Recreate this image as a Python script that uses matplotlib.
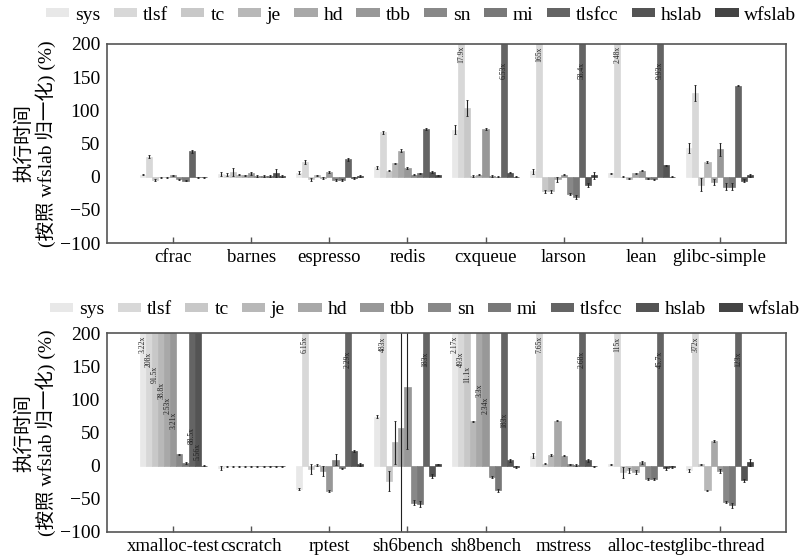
import matplotlib
matplotlib.use("Agg")
import matplotlib.pyplot as plt
from matplotlib.patches import Patch
import numpy as np

plt.rcParams['font.family'] = ['Liberation Serif', 'Noto Sans CJK SC', 'DejaVu Sans']
plt.rcParams['axes.unicode_minus'] = True

series = ['sys', 'tlsf', 'tc', 'je', 'hd', 'tbb', 'sn', 'mi', 'tlsfcc', 'hslab', 'wfslab']
colors = ['#e8e8e8', '#d8d8d8', '#c8c8c8', '#b8b8b8', '#a8a8a8', '#989898',
          '#888888', '#787878', '#646464', '#545454', '#444444']

cats_top = ['cfrac', 'barnes', 'espresso', 'redis', 'cxqueue', 'larson', 'lean', 'glibc-simple']
cats_bot = ['xmalloc-test', 'cscratch', 'rptest', 'sh6bench', 'sh8bench', 'mstress', 'alloc-test', 'glibc-thread']

# values in % (values above 200 are overflow bars, labelled as multiples)
top_vals = {
    'sys':    [3, 4, 6, 14, 71, 8, 5, 43],
    'tlsf':   [30, 3, 22, 67, 1790, 16500, 248, 126],
    'tc':     [-5, 7, -4, 9, 103, -22, 0, -12],
    'je':     [-1, 3, 2, 20, 1, -22, -3, 22],
    'hd':     [-1, 2, -2, 39, 3, -4, 5, -8],
    'tbb':    [2, 5, 7, 13, 72, 3, 9, 41],
    'sn':     [-4, 1, -5, 3, 1, -26, -3, -15],
    'mi':     [-6, 1, -5, 5, 0, -30, -4, -15],
    'tlsfcc': [38, 1, 26, 72, 653, 5840, 993, 137],
    'hslab':  [-1, 5, -2, 7, 6, -12, 17, -6],
    'wfslab': [-1, 1, 1, 2, 0, 2, 0, 2],
}
top_errs = {
    'sys':    [1, 3, 2, 2, 7, 4, 1, 8],
    'tlsf':   [2, 2, 3, 2, 0, 0, 0, 12],
    'tc':     [2, 6, 2, 1, 12, 2, 1, 10],
    'je':     [1, 1, 1, 1, 1, 2, 1, 2],
    'hd':     [1, 1, 1, 2, 1, 4, 1, 5],
    'tbb':    [1, 2, 1, 1, 2, 1, 1, 10],
    'sn':     [1, 1, 1, 1, 1, 2, 1, 5],
    'mi':     [1, 1, 1, 1, 1, 3, 1, 5],
    'tlsfcc': [2, 1, 2, 2, 0, 0, 0, 1],
    'hslab':  [1, 6, 1, 1, 1, 3, 1, 2],
    'wfslab': [1, 1, 1, 1, 1, 5, 1, 2],
}

bot_vals = {
    'sys':    [322, -3, -35, 74, 217, 15, 2, -7],
    'tlsf':   [20800, -1, 615, 48300, 49300, 765, 11500, 37200],
    'tc':     [9150, -1, -5, -23, 1110, 3, -10, 2],
    'je':     [3880, -1, 1, 35, 67, 16, -7, -37],
    'hd':     [253, -1, -8, 57, 330, 68, -10, 37],
    'tbb':    [321, -1, -38, 118, 234, 15, 5, -8],
    'sn':     [17, -1, 9, -56, -17, 2, -20, -55],
    'mi':     [4, -1, -4, -58, -37, 1, -20, -60],
    'tlsfcc': [8850, -1, 229, 18300, 18300, 268, 4570, 12300],
    'hslab':  [556, -1, 22, -15, 8, 8, -4, -22],
    'wfslab': [0, -1, 2, 2, -2, -1, -2, 5],
}
bot_errs = {
    'sys':    [0, 3, 1, 2, 0, 4, 1, 2],
    'tlsf':   [0, 1, 0, 0, 0, 0, 0, 0],
    'tc':     [0, 1, 8, 15, 0, 1, 8, 1],
    'je':     [0, 1, 2, 32, 1, 2, 4, 1],
    'hd':     [0, 1, 7, 170, 0, 1, 3, 1],
    'tbb':    [0, 1, 1, 93, 0, 1, 2, 3],
    'sn':     [1, 1, 8, 4, 2, 1, 1, 2],
    'mi':     [1, 1, 1, 4, 2, 1, 2, 4],
    'tlsfcc': [0, 1, 0, 0, 0, 0, 0, 0],
    'hslab':  [0, 1, 1, 3, 2, 2, 2, 2],
    'wfslab': [1, 1, 2, 1, 2, 1, 1, 5],
}

yticks = [-100, -50, 0, 50, 100, 150, 200]
ylabel = "执行时间\n(按照 wfslab 归一化) (%)"

W, H = 807, 559
fig = plt.figure(figsize=(W / 100, H / 100), dpi=100)
ax1 = fig.add_axes([107 / W, 1 - 243 / H, (786 - 107) / W, 199 / H])
ax2 = fig.add_axes([107 / W, 1 - 532 / H, (786 - 107) / W, 199 / H])

bw = 0.078
n = len(series)


def draw(ax, cats, vals, errs, label_c0, label_step):
    x = np.arange(len(cats))
    for i, s in enumerate(series):
        xs = x + (i - (n - 1) / 2) * bw
        ax.bar(xs, vals[s], bw, color=colors[i], edgecolor=colors[i], linewidth=0.5,
               yerr=errs[s], error_kw=dict(ecolor='#222222', elinewidth=0.8, capsize=1, capthick=0.6),
               zorder=2)
    # overflow labels
    for j in range(len(cats)):
        k = 0
        for i, s in enumerate(series):
            v = vals[s][j]
            if v > 200:
                xc = j + (i - (n - 1) / 2) * bw
                ax.text(xc, label_c0 - label_step * k, f"{v / 100:.3g}x", rotation=90,
                        ha='center', va='center', fontsize=5.5, color='#222222', zorder=3)
                k += 1
    ax.set_xlim(-0.85, 7.85)
    ax.set_ylim(-100, 200)
    ax.set_yticks(yticks)
    ax.set_xticks(x)
    ax.set_xticklabels(cats, fontsize=13.5)
    ax.tick_params(axis='y', labelsize=14, length=0, pad=5)
    ax.tick_params(axis='x', direction='in', length=4, width=1, color='#555555', pad=4)
    for sp in ax.spines.values():
        sp.set_color('#555555')
        sp.set_linewidth(1.2)
    ax.set_ylabel(ylabel, fontsize=14, linespacing=1.15)
    ax.yaxis.set_label_coords(-0.075, 0.5)


draw(ax1, cats_top, top_vals, top_errs, 184, 24)
draw(ax2, cats_bot, bot_vals, bot_errs, 183, 23)

handles = [Patch(facecolor=c, edgecolor='none') for c in colors]
for (ax, xl, yc) in [(ax1, 46, 15), (ax2, 50, 310)]:
    ax.legend(handles, series, loc='center left', bbox_to_anchor=(xl / W, 1 - yc / H),
              bbox_transform=fig.transFigure, ncol=11, frameon=False, fontsize=14,
              handlelength=1.2, handleheight=0.28, handletextpad=0.3, columnspacing=0.68,
              borderpad=0, borderaxespad=0)

fig.savefig('out.png', dpi=100)
